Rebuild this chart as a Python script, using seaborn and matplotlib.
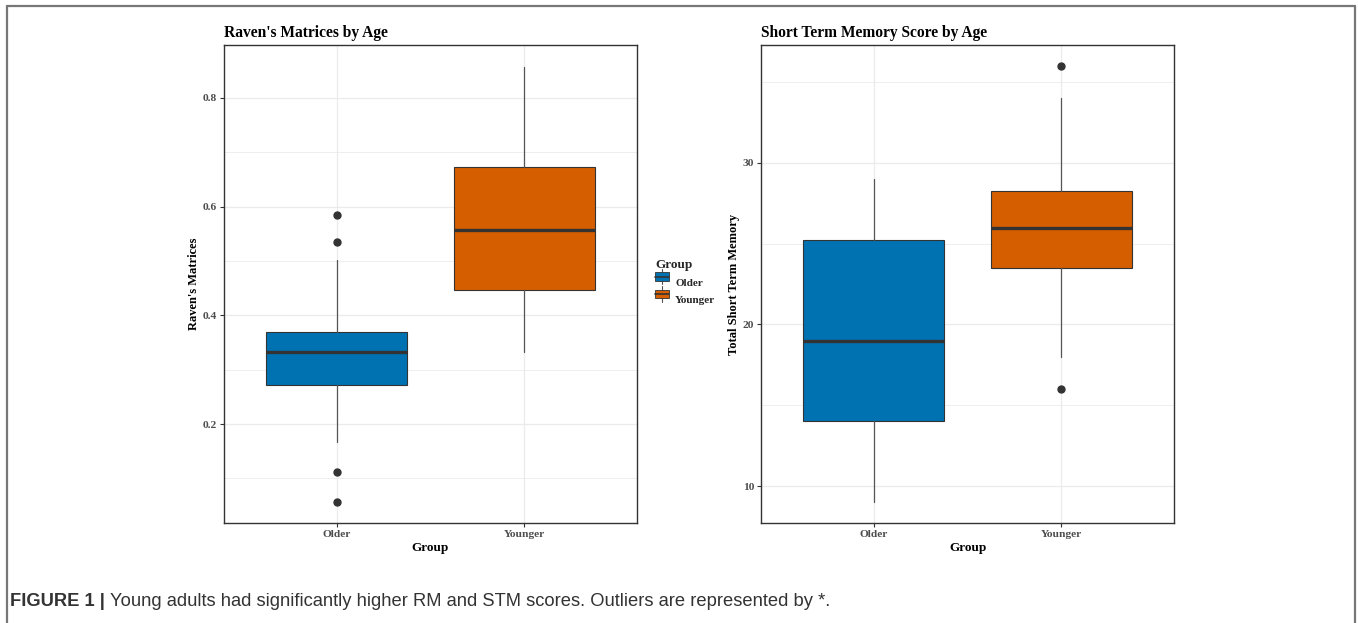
import matplotlib
matplotlib.use("Agg")
import matplotlib.pyplot as plt
import seaborn as sns
from matplotlib.patches import Rectangle
from matplotlib.lines import Line2D
from matplotlib.legend_handler import HandlerBase
from matplotlib.ticker import MultipleLocator
from matplotlib import font_manager as fm

# ---- data: per-group box summaries ----
groups = ["Older", "Younger"]
group_colors = ["#0072B2", "#D55E00"]

rm_q1 = [0.272, 0.447]
rm_median = [0.333, 0.557]
rm_q3 = [0.369, 0.673]
rm_whislo = [0.167, 0.333]
rm_whishi = [0.502, 0.857]
rm_outliers = [[0.056, 0.112, 0.535, 0.584], []]

stm_q1 = [14.0, 23.5]
stm_median = [19.0, 26.0]
stm_q3 = [25.25, 28.25]
stm_whislo = [9.0, 18.0]
stm_whishi = [29.0, 34.0]
stm_outliers = [[], [16.0, 36.0]]

# ---- style ----
sns.set_theme(style="whitegrid")
serif = ["Liberation Serif", "DejaVu Serif"]
plt.rcParams["font.family"] = serif


def pick_font(candidates):
    for name in candidates:
        try:
            fm.findfont(fm.FontProperties(family=name), fallback_to_default=False)
            return name
        except Exception:
            continue
    return "DejaVu Sans"


caption_font = pick_font(["Liberation Sans Narrow", "Liberation Sans", "DejaVu Sans"])

DARK = "#333333"
GRID = "#ebebeb"
TICKLAB = "#4d4d4d"

fig = plt.figure(figsize=(13.58, 6.23), dpi=100)
ax1 = fig.add_axes([0.1649, 0.1605, 0.3042, 0.7673])
ax2 = fig.add_axes([0.5604, 0.1605, 0.3042, 0.7673])


def make_stats(q1, med, q3, lo, hi, fl):
    out = []
    for i, g in enumerate(groups):
        out.append(dict(label=g, q1=q1[i], med=med[i], q3=q3[i],
                        whislo=lo[i], whishi=hi[i], fliers=fl[i]))
    return out


def draw_panel(ax, stats, title, ylabel, ylim, major, minor, fmt):
    ax.set_facecolor("white")
    ax.set_axisbelow(True)
    bp = ax.bxp(stats, positions=[0, 1], widths=0.75, patch_artist=True,
                showcaps=False,
                boxprops=dict(edgecolor=DARK, linewidth=0.8),
                medianprops=dict(color=DARK, linewidth=2.4, solid_capstyle="butt"),
                whiskerprops=dict(color="#555555", linewidth=0.9),
                flierprops=dict(marker="o", markersize=5, markerfacecolor=DARK,
                                markeredgecolor=DARK, linestyle="none"))
    for patch, c in zip(bp["boxes"], group_colors):
        patch.set_facecolor(c)
    ax.set_xlim(-0.6, 1.6)
    ax.set_ylim(*ylim)
    ax.set_xticks([0, 1])
    ax.set_xticklabels(groups)
    ax.yaxis.set_major_locator(MultipleLocator(major))
    ax.yaxis.set_minor_locator(MultipleLocator(minor))
    ax.yaxis.set_major_formatter(plt.FuncFormatter(fmt))
    ax.grid(which="major", color=GRID, linewidth=0.9)
    ax.grid(which="minor", axis="y", color=GRID, linewidth=0.6)
    ax.tick_params(which="major", direction="out", length=3, width=0.8,
                   color=DARK, labelsize=8.2, labelcolor=TICKLAB, pad=2,
                   left=True, bottom=True)
    ax.tick_params(which="minor", length=0)
    for lab in ax.get_xticklabels() + ax.get_yticklabels():
        lab.set_fontweight("bold")
    for sp in ax.spines.values():
        sp.set_visible(True)
        sp.set_color(DARK)
        sp.set_linewidth(1.0)
    ax.set_xlabel("Group", fontsize=9.5, fontweight="bold", color="black", labelpad=2)
    ax.set_ylabel(ylabel, fontsize=9, fontweight="bold", color="black", labelpad=2)
    ax.set_title(title, loc="left", fontsize=11.2, fontweight="bold", color="black", pad=6)


draw_panel(ax1, make_stats(rm_q1, rm_median, rm_q3, rm_whislo, rm_whishi, rm_outliers),
           "Raven's Matrices by Age", "Raven's Matrices", (0.018, 0.8975), 0.2, 0.1,
           lambda v, p: f"{v:.1f}")
draw_panel(ax2, make_stats(stm_q1, stm_median, stm_q3, stm_whislo, stm_whishi, stm_outliers),
           "Short Term Memory Score by Age", "Total Short Term Memory", (7.71, 37.3), 10, 5,
           lambda v, p: f"{v:.0f}")
for ax in (ax1, ax2):
    for lab in ax.get_yticklabels():
        lab.set_fontweight("bold")


# ---- legend with box-shaped keys ----
class BoxKey(HandlerBase):
    def create_artists(self, legend, orig, xd, yd, w, h, fontsize, trans):
        fc = orig.get_facecolor()
        cx = xd + w / 2
        stub = Line2D([cx, cx], [yd - 1, yd + h + 1], color="#555555", lw=0.8,
                      transform=trans)
        rect = Rectangle((xd, yd + 1.5), w, h - 3, facecolor=fc, edgecolor=DARK,
                         lw=0.6, transform=trans)
        med = Line2D([xd, xd + w], [yd + h / 2, yd + h / 2], color=DARK, lw=1.2,
                     transform=trans)
        return [stub, rect, med]


handles = [Rectangle((0, 0), 1, 1, facecolor=c) for c in group_colors]
leg = fig.legend(handles, groups, title="Group", loc="upper left",
                 bbox_to_anchor=(0.475, 0.600), frameon=False,
                 handler_map={Rectangle: BoxKey()}, handlelength=1.3,
                 handleheight=1.4, handletextpad=0.5, labelspacing=0.4,
                 prop=dict(family=serif, weight="bold", size=8))
leg.get_title().set_fontweight("bold")
leg.get_title().set_fontsize(9.5)
leg._legend_box.align = "left"

# ---- outer frame (open at the bottom) ----
frame = dict(color="#777777", lw=1.6, transform=fig.transFigure, clip_on=False)
fig.add_artist(Line2D([7 / 1358, 7 / 1358], [0, 1 - 6 / 623], **frame))
fig.add_artist(Line2D([7 / 1358, 1355 / 1358], [1 - 6 / 623, 1 - 6 / 623], **frame))
fig.add_artist(Line2D([1355 / 1358, 1355 / 1358], [0, 1 - 6 / 623], **frame))

# ---- caption ----
cap_y = 1 - 601 / 623
cap_size = 13.2
t1 = fig.text(10 / 1358, cap_y, "FIGURE 1 |", family=caption_font, fontweight="bold",
              fontsize=cap_size, color="#333333", va="center", ha="left")
fig.canvas.draw()
bb = t1.get_window_extent(renderer=fig.canvas.get_renderer())
x_next = (bb.x1 + 5) / fig.bbox.width
fig.text(x_next, cap_y, "Young adults had significantly higher RM and STM scores. "
         "Outliers are represented by *.", family=caption_font, fontsize=cap_size,
         color="#333333", va="center", ha="left")

fig.savefig("out.png", dpi=100, facecolor="white")
